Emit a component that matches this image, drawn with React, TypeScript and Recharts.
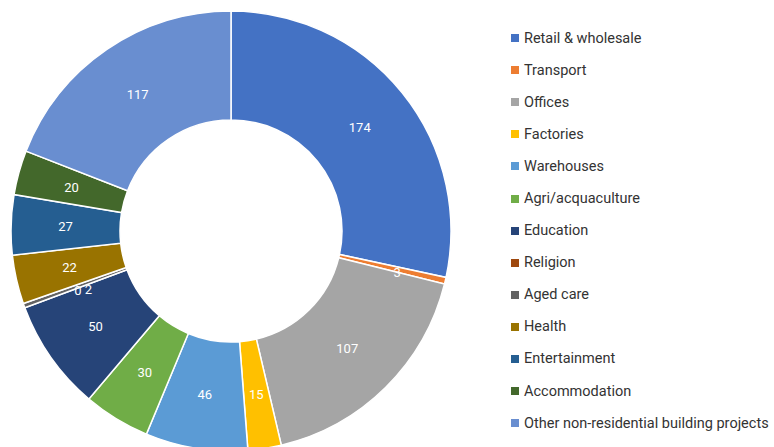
import React from 'react';
import { PieChart, Pie, Cell, Legend } from 'recharts';

const categories = [
  'Retail & wholesale',
  'Transport',
  'Offices',
  'Factories',
  'Warehouses',
  'Agri/acquaculture',
  'Education',
  'Religion',
  'Aged care',
  'Health',
  'Entertainment',
  'Accommodation',
  'Other non-residential building projects',
];

const projectCounts = [174, 3, 107, 15, 46, 30, 50, 0, 2, 22, 27, 20, 117];

const COLORS = [
  '#4472C4', '#ED7D31', '#A5A5A5', '#FFC000', '#5B9BD5', '#70AD47',
  '#264478', '#9E480E', '#636363', '#997300', '#255E91', '#43682B', '#698ED0',
];

const data = categories.map((name, i) => ({ name, value: projectCounts[i] }));

const RADIAN = Math.PI / 180;
const FONT = 'Roboto, sans-serif';

// nudges for the tiny slices so their labels don't sit on top of each other
const LABEL_NUDGE: Record<string, [number, number]> = {
  Transport: [5, 4],
  Religion: [2, 2],
  'Aged care': [13, 2],
};

const renderLabel = (props: any) => {
  const { cx, cy, midAngle, innerRadius, outerRadius, value, index } = props;
  const r = (innerRadius + outerRadius) / 2;
  const [dx, dy] = LABEL_NUDGE[data[index].name] || [0, 0];
  const x = cx + r * Math.cos(-midAngle * RADIAN) + dx;
  const y = cy + r * Math.sin(-midAngle * RADIAN) + dy;
  return (
    <text x={x} y={y} fill="#fff" fontSize={13} fontFamily={FONT} textAnchor="middle" dominantBaseline="central">
      {value}
    </text>
  );
};

const renderLegend = () => (
  <div style={{ fontFamily: FONT, fontSize: 14.5, color: '#333' }}>
    {data.map((d, i) => (
      <div key={d.name} style={{ display: 'flex', alignItems: 'center', height: 32.1 }}>
        <span style={{ width: 8, height: 8, background: COLORS[i], marginRight: 5, display: 'inline-block' }} />
        <span>{d.name}</span>
      </div>
    ))}
  </div>
);

const App: React.FC = () => {
  return (
    <div style={{ position: 'absolute', left: 0, top: 0, width: 774, height: 447, background: '#fff' }}>
      <PieChart width={774} height={447} margin={{ top: 0, right: 0, bottom: 0, left: 0 }}>
        <Pie
          data={data}
          dataKey="value"
          cx={231}
          cy={231}
          innerRadius={111}
          outerRadius={220}
          startAngle={90}
          endAngle={-270}
          stroke="#fff"
          strokeWidth={1.5}
          label={renderLabel}
          labelLine={false}
          isAnimationActive={false}
        >
          {data.map((_, i) => (
            <Cell key={`cell-${i}`} fill={COLORS[i]} />
          ))}
        </Pie>
        <Legend
          layout="vertical"
          verticalAlign="top"
          align="right"
          wrapperStyle={{ left: 511, top: 22, width: 263, right: 'auto' }}
          content={renderLegend}
        />
      </PieChart>
    </div>
  );
};

export default App;
